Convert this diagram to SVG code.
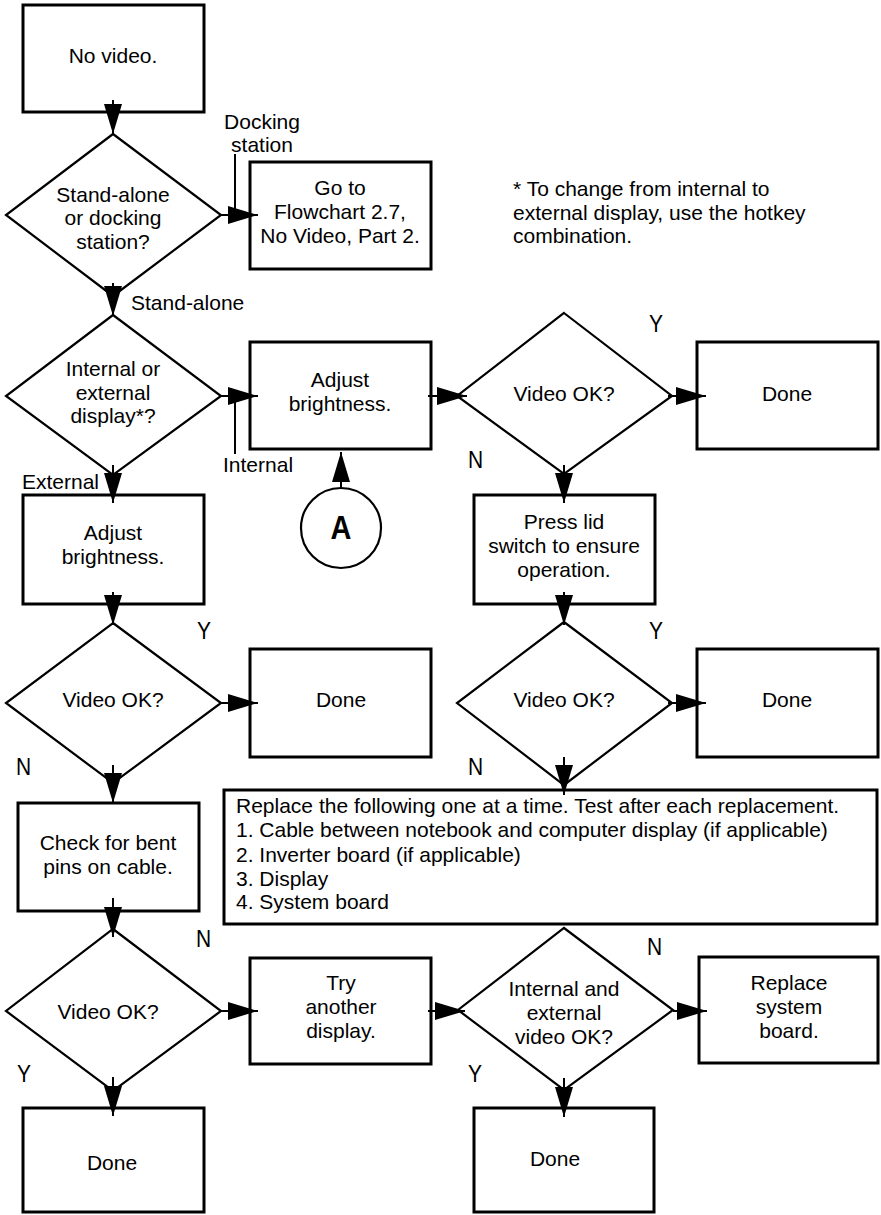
<svg xmlns="http://www.w3.org/2000/svg" width="881" height="1215" viewBox="0 0 881 1215">
<defs>
<style>
.box{fill:#fff;stroke:#000;stroke-width:3}
.dia{fill:#fff;stroke:#000;stroke-width:2.2}
.t{font-family:"Liberation Sans",Arial,sans-serif;font-size:21px;fill:#000;text-anchor:middle}
.l{font-family:"Liberation Sans",Arial,sans-serif;font-size:21px;fill:#000}
.yn{font-family:"Liberation Sans",Arial,sans-serif;font-size:24px;fill:#000}
.e{text-anchor:end}
.c{stroke:#000;stroke-width:2;fill:none}
.a{marker-end:url(#ah)}
</style>
<marker id="ah" markerUnits="userSpaceOnUse" markerWidth="31" markerHeight="19" refX="30" refY="9" orient="auto" viewBox="0 0 31 19">
<path d="M0,0 L30,9 L0,18 Z" fill="#000"/>
</marker>
</defs>
<rect width="881" height="1215" fill="#fff"/>

<g id="n-novideo">
<rect class="box" x="23" y="5" width="181" height="107"/>
<text class="t" x="113" y="63">No video.</text>
</g>

<g id="d-standalone">
<polygon class="dia" points="113,134 221,215 113,296 6,215"/>
<text class="t" x="113" y="202">Stand-alone</text>
<text class="t" x="113" y="225">or docking</text>
<text class="t" x="113" y="249">station?</text>
</g>

<g id="n-goto">
<rect class="box" x="250" y="162" width="181" height="107"/>
<text class="t" x="340" y="195">Go to</text>
<text class="t" x="340" y="219">Flowchart 2.7,</text>
<text class="t" x="340" y="243">No Video, Part 2.</text>
</g>

<g id="note">
<text class="l" x="513" y="196">* To change from internal to</text>
<text class="l" x="513" y="220">external display, use the hotkey</text>
<text class="l" x="513" y="243">combination.</text>
</g>

<g id="d-intext">
<polygon class="dia" points="113,315 221,396 113,475 6,396"/>
<text class="t" x="113" y="376">Internal or</text>
<text class="t" x="113" y="400">external</text>
<text class="t" x="113" y="423">display*?</text>
</g>

<g id="n-adjust1">
<rect class="box" x="250" y="342" width="181" height="107"/>
<text class="t" x="340" y="387">Adjust</text>
<text class="t" x="340" y="411">brightness.</text>
</g>

<g id="c-a">
<circle cx="341" cy="528" r="40" fill="#fff" stroke="#000" stroke-width="2.2"/>
<text transform="translate(341 539) scale(0.85 1)" font-family="'Liberation Sans',Arial,sans-serif" font-size="34" font-weight="bold" text-anchor="middle">A</text>
</g>

<g id="d-videook1">
<polygon class="dia" points="564,313 672,396 564,474 457,396"/>
<text class="t" x="564" y="401">Video OK?</text>
</g>

<g id="n-done1">
<rect class="box" x="697" y="342" width="181" height="107"/>
<text class="t" x="787" y="401">Done</text>
</g>

<g id="n-adjust2">
<rect class="box" x="23" y="495" width="181" height="109"/>
<text class="t" x="113" y="540">Adjust</text>
<text class="t" x="113" y="564">brightness.</text>
</g>

<g id="n-presslid">
<rect class="box" x="474" y="495" width="181" height="109"/>
<text class="t" x="564" y="529">Press lid</text>
<text class="t" x="564" y="553">switch to ensure</text>
<text class="t" x="564" y="577">operation.</text>
</g>

<g id="d-videook2">
<polygon class="dia" points="113,623 221,703 113,783 6,703"/>
<text class="t" x="113" y="707">Video OK?</text>
</g>

<g id="n-done2">
<rect class="box" x="250" y="649" width="181" height="108"/>
<text class="t" x="341" y="707">Done</text>
</g>

<g id="d-videook3">
<polygon class="dia" points="564,622 672,703 564,785 457,703"/>
<text class="t" x="564" y="707">Video OK?</text>
</g>

<g id="n-done3">
<rect class="box" x="697" y="649" width="181" height="108"/>
<text class="t" x="787" y="707">Done</text>
</g>

<g id="n-checkpins">
<rect class="box" x="18" y="803" width="181" height="108"/>
<text class="t" x="108" y="850">Check for bent</text>
<text class="t" x="108" y="874">pins on cable.</text>
</g>

<g id="n-replacelist">
<rect class="box" x="224" y="790" width="653" height="134"/>
<text class="l" x="236" y="813">Replace the following one at a time. Test after each replacement.</text>
<text class="l" x="236" y="837">1. Cable between notebook and computer display (if applicable)</text>
<text class="l" x="236" y="862">2. Inverter board (if applicable)</text>
<text class="l" x="236" y="886">3. Display</text>
<text class="l" x="236" y="909">4. System board</text>
</g>

<g id="d-videook4">
<polygon class="dia" points="113,929 221,1011 113,1091 6,1011"/>
<text class="t" x="108" y="1019">Video OK?</text>
</g>

<g id="n-tryanother">
<rect class="box" x="250" y="958" width="181" height="106"/>
<text class="t" x="341" y="990">Try</text>
<text class="t" x="341" y="1014">another</text>
<text class="t" x="341" y="1038">display.</text>
</g>

<g id="d-intextok">
<polygon class="dia" points="564,928 673,1010 564,1090 458,1010"/>
<text class="t" x="564" y="996">Internal and</text>
<text class="t" x="564" y="1020">external</text>
<text class="t" x="564" y="1044">video OK?</text>
</g>

<g id="n-replacesb">
<rect class="box" x="699" y="957" width="179" height="106"/>
<text class="t" x="789" y="990">Replace</text>
<text class="t" x="789" y="1014">system</text>
<text class="t" x="789" y="1038">board.</text>
</g>

<g id="n-done4">
<rect class="box" x="23" y="1108" width="181" height="104"/>
<text class="t" x="112" y="1170">Done</text>
</g>

<g id="n-done5">
<rect class="box" x="474" y="1108" width="180" height="104"/>
<text class="t" x="555" y="1166">Done</text>
</g>

<g id="connectors">
<line class="c a" x1="113" y1="100" x2="113" y2="134"/>
<line class="c a" x1="221" y1="215" x2="258" y2="215"/>
<line class="c" x1="235" y1="154" x2="235" y2="215"/>
<line class="c a" x1="113" y1="283" x2="113" y2="316"/>
<line class="c a" x1="221" y1="396" x2="258" y2="396"/>
<line class="c" x1="235" y1="396" x2="235" y2="454"/>
<line class="c a" x1="113" y1="465" x2="113" y2="503"/>
<line class="c a" x1="341" y1="488" x2="341" y2="452"/>
<line class="c a" x1="428" y1="396" x2="467" y2="396"/>
<line class="c a" x1="668" y1="396" x2="706" y2="396"/>
<line class="c a" x1="564" y1="465" x2="564" y2="503"/>
<line class="c a" x1="564" y1="592" x2="564" y2="625"/>
<line class="c a" x1="668" y1="703" x2="706" y2="703"/>
<line class="c a" x1="564" y1="757" x2="564" y2="795"/>
<line class="c a" x1="113" y1="592" x2="113" y2="625"/>
<line class="c a" x1="221" y1="703" x2="258" y2="703"/>
<line class="c a" x1="113" y1="765" x2="113" y2="803"/>
<line class="c a" x1="113" y1="898" x2="113" y2="937"/>
<line class="c a" x1="221" y1="1011" x2="258" y2="1011"/>
<line class="c a" x1="113" y1="1077" x2="113" y2="1116"/>
<line class="c a" x1="428" y1="1011" x2="465" y2="1011"/>
<line class="c a" x1="673" y1="1011" x2="707" y2="1011"/>
<line class="c a" x1="564" y1="1078" x2="564" y2="1117"/>
</g>

<g id="labels">
<text class="t" x="262" y="129">Docking</text>
<text class="t" x="262" y="152">station</text>
<text class="l" x="131" y="310">Stand-alone</text>
<text class="l" x="223" y="472">Internal</text>
<text class="l e" x="99" y="489">External</text>
<text class="yn" transform="translate(649 332) scale(0.875 1)">Y</text>
<text class="yn" transform="translate(468 468) scale(0.875 1)">N</text>
<text class="yn" transform="translate(649 639) scale(0.875 1)">Y</text>
<text class="yn" transform="translate(197 639) scale(0.875 1)">Y</text>
<text class="yn" transform="translate(16 775) scale(0.875 1)">N</text>
<text class="yn" transform="translate(468 775) scale(0.875 1)">N</text>
<text class="yn" transform="translate(196 947) scale(0.875 1)">N</text>
<text class="yn" transform="translate(647 955) scale(0.875 1)">N</text>
<text class="yn" transform="translate(17 1082) scale(0.875 1)">Y</text>
<text class="yn" transform="translate(468 1082) scale(0.875 1)">Y</text>
</g>
</svg>
